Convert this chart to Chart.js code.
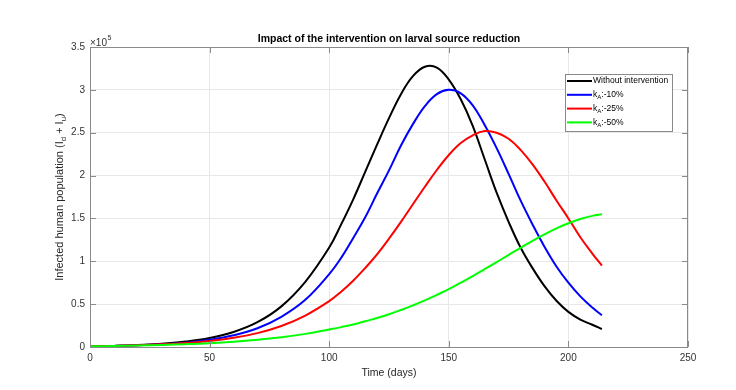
<!DOCTYPE html>
<html>
<head>
<meta charset="utf-8">
<script src="https://cdn.jsdelivr.net/npm/chart.js@4.4.1/dist/chart.umd.min.js"></script>
<style>
  body { margin: 0; background: #fff; }
  canvas { display: block; }
</style>
</head>
<body>
<canvas id="larvalChart" width="736" height="390"></canvas>
<script>
// time points (days) and infected humans, in units of 10^5
const days = [0, 10, 20, 30, 40, 50, 60, 70, 80, 90,
    100, 105, 110, 115, 120, 125, 130, 135, 140, 145, 150, 155,
    160, 165, 170, 175, 180, 185, 190, 195, 200, 205, 210, 214];

const withoutIntervention = [0.008, 0.013, 0.022, 0.038, 0.063, 0.105, 0.175, 0.289, 0.474, 0.76,
    1.16, 1.43, 1.72, 2.04, 2.36, 2.67, 2.95, 3.16, 3.27, 3.26, 3.12, 2.89,
    2.58, 2.19, 1.80, 1.46, 1.16, 0.92, 0.71, 0.54, 0.41, 0.32, 0.26, 0.21];

const kA10 = [0.007, 0.012, 0.019, 0.032, 0.051, 0.084, 0.136, 0.219, 0.352, 0.55,
    0.85, 1.04, 1.27, 1.51, 1.79, 2.06, 2.35, 2.60, 2.81, 2.95, 3.00, 2.96,
    2.82, 2.59, 2.32, 2.02, 1.71, 1.43, 1.17, 0.94, 0.75, 0.59, 0.46, 0.37];

const kA25 = [0.008, 0.013, 0.020, 0.031, 0.047, 0.071, 0.108, 0.162, 0.245, 0.367,
    0.535, 0.645, 0.773, 0.92, 1.08, 1.264, 1.46, 1.666, 1.87, 2.065, 2.24, 2.38,
    2.47, 2.52, 2.50, 2.43, 2.30, 2.13, 1.93, 1.71, 1.50, 1.28, 1.09, 0.95];

const kA50 = [0.008, 0.012, 0.017, 0.024, 0.033, 0.045, 0.062, 0.085, 0.115, 0.153,
    0.205, 0.232, 0.262, 0.30, 0.338, 0.382, 0.432, 0.485, 0.543, 0.609, 0.675, 0.75,
    0.827, 0.908, 0.99, 1.075, 1.157, 1.239, 1.315, 1.384, 1.444, 1.493, 1.53, 1.55];

const seriesLabels = ['Without intervention', 'k_A:-10%', 'k_A:-25%', 'k_A:-50%'];
const seriesColors = ['#000000', '#0000ff', '#ff0000', '#00ff00'];
const xTicks = [0, 50, 100, 150, 200, 250];
const yTicks = [0, 0.5, 1, 1.5, 2, 2.5, 3, 3.5];

const FONT = '"Liberation Sans", Arial, sans-serif';

// split "k_A:-10%" into normal / subscript pieces
function richParts(text) {
    let parts = [];
    let re = /_(\w)/g;
    let last = 0, m;
    while ((m = re.exec(text)) !== null) {
        if (m.index > last) parts.push({ t: text.slice(last, m.index), sub: false });
        parts.push({ t: m[1], sub: true });
        last = m.index + m[0].length;
    }
    if (last < text.length) parts.push({ t: text.slice(last), sub: false });
    return parts;
}

function drawRich(ctx, text, x, y, size, align) {
    let parts = richParts(text);
    let total = 0;
    parts.forEach(p => {
        ctx.font = (p.sub ? size * 0.72 : size) + 'px ' + FONT;
        p.w = ctx.measureText(p.t).width;
        total += p.w;
    });
    let cx = align === 'center' ? x - total / 2 : x;
    ctx.textAlign = 'left';
    ctx.textBaseline = 'middle';
    parts.forEach(p => {
        ctx.font = (p.sub ? size * 0.72 : size) + 'px ' + FONT;
        ctx.fillText(p.t, cx, p.sub ? y + size * 0.35 : y);
        cx += p.w;
    });
}

const matlabFrame = {
    id: 'matlabFrame',
    afterDraw(chart) {
        const ctx = chart.ctx;
        const a = chart.chartArea;
        const xs = chart.scales.x, ys = chart.scales.y;
        ctx.save();

        // axes box with inward ticks
        ctx.strokeStyle = '#8a8a8a';
        ctx.lineWidth = 1;
        ctx.strokeRect(a.left + 0.5, a.top + 0.5, a.right - a.left - 1, a.bottom - a.top);
        ctx.beginPath();
        xTicks.forEach(v => {
            let px = Math.round(xs.getPixelForValue(v)) + 0.5;
            ctx.moveTo(px, a.bottom); ctx.lineTo(px, a.bottom - 6);
            ctx.moveTo(px, a.top); ctx.lineTo(px, a.top + 6);
        });
        yTicks.forEach(v => {
            let py = Math.round(ys.getPixelForValue(v)) + 0.5;
            ctx.moveTo(a.left, py); ctx.lineTo(a.left + 6, py);
            ctx.moveTo(a.right, py); ctx.lineTo(a.right - 6, py);
        });
        ctx.stroke();

        // title
        ctx.fillStyle = '#000';
        ctx.font = 'bold 10.5px ' + FONT;
        ctx.textAlign = 'center';
        ctx.textBaseline = 'middle';
        ctx.fillText('Impact of the intervention on larval source reduction', (a.left + a.right) / 2, a.top - 8);

        // exponent label
        ctx.fillStyle = '#333';
        ctx.font = '10px ' + FONT;
        ctx.textAlign = 'left';
        let expW = ctx.measureText('\u00d710').width;
        ctx.fillText('\u00d710', a.left, a.top - 4);
        ctx.font = '7px ' + FONT;
        ctx.fillText('5', a.left + expW + 0.5, a.top - 9);

        // axis titles
        ctx.fillStyle = '#262626';
        ctx.font = '10.5px ' + FONT;
        ctx.textAlign = 'center';
        ctx.fillText('Time (days)', (a.left + a.right) / 2, a.bottom + 26);
        ctx.save();
        ctx.translate(a.left - 30, (a.top + a.bottom) / 2);
        ctx.rotate(-Math.PI / 2);
        drawRich(ctx, 'Infected human population (I_d + I_u)', 0, 0, 11, 'center');
        ctx.restore();

        // legend
        let lx = a.right - 123, ly = a.top + 27, lw = 107, lh = 57;
        ctx.fillStyle = '#fff';
        ctx.fillRect(lx, ly, lw, lh);
        ctx.strokeStyle = '#8a8a8a';
        ctx.lineWidth = 1;
        ctx.strokeRect(lx + 0.5, ly + 0.5, lw, lh);
        seriesLabels.forEach((label, i) => {
            let ry = ly + 7 + i * 13.8;
            ctx.strokeStyle = seriesColors[i];
            ctx.lineWidth = 2;
            ctx.beginPath();
            ctx.moveTo(lx + 2, ry); ctx.lineTo(lx + 27, ry);
            ctx.stroke();
            ctx.fillStyle = '#000';
            drawRich(ctx, label, lx + 28, ry, 8.5, 'left');
        });
        ctx.restore();
    }
};

const seriesData = [withoutIntervention, kA10, kA25, kA50];

new Chart(document.getElementById('larvalChart').getContext('2d'), {
    type: 'line',
    data: {
        datasets: seriesData.map((values, i) => ({
            label: seriesLabels[i],
            data: values.map((v, j) => ({ x: days[j], y: v })),
            borderColor: seriesColors[i],
            borderWidth: 2,
            pointRadius: 0,
            fill: false,
            tension: 0.4,
            order: seriesData.length - 1 - i
        }))
    },
    options: {
        responsive: false,
        animation: false,
        layout: { padding: { top: 47, right: 48, left: 0, bottom: 0 } },
        plugins: {
            legend: { display: false },
            title: { display: false },
            tooltip: { enabled: false }
        },
        scales: {
            x: {
                type: 'linear',
                min: 0,
                max: 250,
                afterFit: scale => { scale.height = 43; },
                afterBuildTicks: scale => { scale.ticks = xTicks.map(v => ({ value: v })); },
                grid: { color: '#e8e8e8', drawTicks: false },
                border: { display: false },
                ticks: { color: '#333', padding: 5, font: { family: FONT, size: 10 } }
            },
            y: {
                min: 0,
                max: 3.5,
                afterFit: scale => { scale.width = 90; },
                afterBuildTicks: scale => { scale.ticks = yTicks.map(v => ({ value: v })); },
                grid: { color: '#e8e8e8', drawTicks: false },
                border: { display: false },
                ticks: { color: '#333', padding: 5, font: { family: FONT, size: 10 },
                    callback: v => String(v) }
            }
        }
    },
    plugins: [matlabFrame]
});
</script>
</body>
</html>
